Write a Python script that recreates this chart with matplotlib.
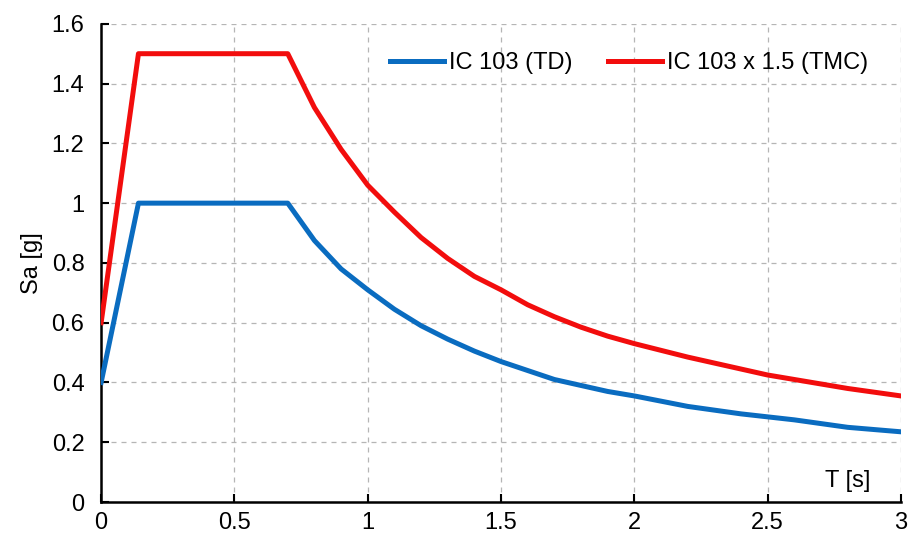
import matplotlib
matplotlib.use("Agg")
import matplotlib.pyplot as plt

plt.rcParams['font.family'] = ['Liberation Sans', 'DejaVu Sans']

# periods [s]
T = [0, 0.14, 0.7, 0.8, 0.9, 1.0, 1.1, 1.2, 1.3, 1.4, 1.5, 1.6, 1.7, 1.8,
     1.9, 2.0, 2.2, 2.4, 2.5, 2.6, 2.8, 3.0]
# IC 103 design spectrum (TD)
sa_td = [0.4, 1.0, 1.0, 0.875, 0.78, 0.71, 0.645, 0.59, 0.545, 0.505, 0.47,
         0.44, 0.41, 0.39, 0.37, 0.355, 0.32, 0.295, 0.285, 0.275, 0.25, 0.235]
# IC 103 x 1.5 (TMC)
sa_tmc = [0.6, 1.5, 1.5, 1.32, 1.18, 1.06, 0.97, 0.885, 0.815, 0.755, 0.71,
          0.66, 0.62, 0.585, 0.555, 0.53, 0.485, 0.445, 0.425, 0.41, 0.38, 0.355]

x_ticks = [0, 0.5, 1, 1.5, 2, 2.5, 3]
x_labels = ['0', '0.5', '1', '1.5', '2', '2.5', '3']
y_ticks = [0, 0.2, 0.4, 0.6, 0.8, 1.0, 1.2, 1.4, 1.6]
y_labels = ['0', '0.2', '0.4', '0.6', '0.8', '1', '1.2', '1.4', '1.6']

fig = plt.figure(figsize=(9.11, 5.41), dpi=100)
ax = fig.add_axes([0.111, 0.072, 0.878, 0.884])

ax.plot(T, sa_td, color='#0a6cc0', lw=3.6, label='IC 103 (TD)', zorder=3)
ax.plot(T, sa_tmc, color='#f20d0d', lw=3.6, label='IC 103 x 1.5 (TMC)', zorder=3)

ax.set_xlim(0, 3)
ax.set_ylim(0, 1.6)
ax.set_xticks(x_ticks)
ax.set_xticklabels(x_labels)
ax.set_yticks(y_ticks)
ax.set_yticklabels(y_labels)
ax.tick_params(direction='in', length=6, width=1.5, labelsize=17, colors='black', pad=7)
ax.tick_params(axis='y', pad=12)

for s in ['top', 'right']:
    ax.spines[s].set_visible(False)
for s in ['left', 'bottom']:
    ax.spines[s].set_linewidth(1.8)

ax.grid(True, ls=(0, (4, 4)), color='#b5b5b5', lw=0.9)
ax.set_axisbelow(True)

ax.set_ylabel('Sa [g]', fontsize=17, labelpad=6)
ax.text(2.885, 0.035, 'T [s]', fontsize=17, ha='right', va='bottom')

ax.legend(loc='upper right', bbox_to_anchor=(0.985, 0.985), ncol=2, frameon=False,
          fontsize=17, handlelength=2.3, handletextpad=0.2, columnspacing=1.5)

fig.savefig('out.png', dpi=100)
